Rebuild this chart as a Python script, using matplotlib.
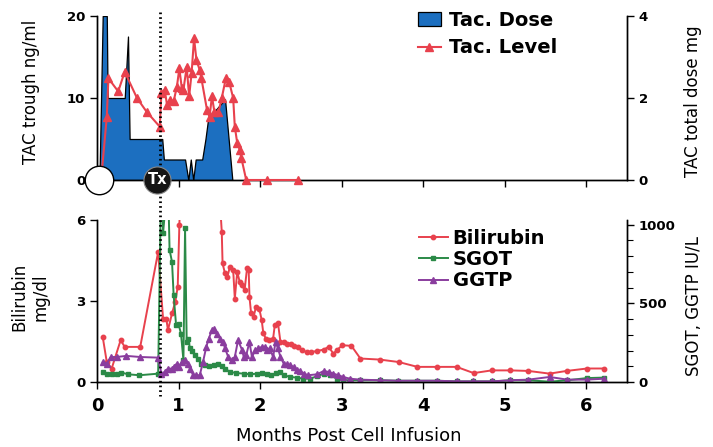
import matplotlib
matplotlib.use('Agg')
import matplotlib.pyplot as plt
import matplotlib.transforms as mtransforms
from matplotlib.lines import Line2D
from matplotlib.patches import Patch
from matplotlib.ticker import MultipleLocator

# ---- data ----
# tacrolimus dose (mg, right axis of top panel)
dose_month = [0.03, 0.07, 0.12, 0.13, 0.34, 0.38, 0.40, 0.80, 0.82, 1.08, 1.12,
              1.15, 1.18, 1.21, 1.29, 1.33, 1.36, 1.42, 1.53, 1.57, 1.66]
dose_mg = [0, 4, 4, 2, 2, 3.5, 1.0, 1.0, 0.5, 0.5, 0, 0.5, 0, 0.5, 0.5, 1.0,
           1.45, 1.63, 1.88, 1.97, 0]

# tacrolimus trough level (ng/ml)
level_month = [0.05, 0.12, 0.14, 0.26, 0.34, 0.49, 0.61, 0.77, 0.79, 0.83, 0.86,
               0.90, 0.94, 0.98, 1.01, 1.04, 1.06, 1.10, 1.13, 1.16, 1.19, 1.22,
               1.26, 1.28, 1.35, 1.38, 1.41, 1.44, 1.49, 1.53, 1.58, 1.62, 1.67,
               1.69, 1.72, 1.75, 1.77, 1.83, 2.08, 2.47]
level_ngml = [0, 7.7, 12.4, 10.8, 13.2, 10.0, 8.3, 6.5, 10.6, 11.0, 9.1,
              9.8, 9.6, 11.4, 13.6, 11.2, 11.0, 13.8, 10.2, 13.0, 17.3, 14.6,
              13.4, 12.4, 8.5, 7.7, 10.2, 8.3, 8.3, 10.0, 12.4, 12.0, 10.0,
              6.5, 4.5, 3.7, 2.7, 0, 0, 0]

# bilirubin (mg/dl)
bili_month = [0.07, 0.12, 0.18, 0.29, 0.34, 0.53, 0.75, 0.81, 0.85, 0.87, 0.92,
              0.96, 0.99, 1.01, 1.06, 1.45, 1.53, 1.54, 1.57, 1.60, 1.63, 1.67,
              1.69, 1.72, 1.75, 1.78, 1.81, 1.84, 1.86, 1.87, 1.89, 1.92, 1.95,
              1.99, 2.02, 2.04, 2.07, 2.11, 2.16, 2.18, 2.22, 2.25, 2.29, 2.33,
              2.38, 2.42, 2.46, 2.51, 2.57, 2.63, 2.70, 2.78, 2.84, 2.90, 2.94,
              3.01, 3.12, 3.23, 3.47, 3.70, 3.93, 4.17, 4.41, 4.62, 4.84, 5.07,
              5.29, 5.55, 5.76, 6.01, 6.22]
bili_mgdl = [1.67, 0.74, 0.5, 1.55, 1.3, 1.3, 4.82, 2.35, 2.35, 1.92, 2.54,
             2.97, 3.53, 5.8, 11.0, 9.5, 5.57, 4.39, 4.02, 3.9, 4.27, 4.15,
             3.09, 4.08, 3.71, 3.59, 3.4, 4.21, 4.15, 3.15, 2.54, 2.41, 2.78,
             2.72, 2.29, 1.8, 1.61, 1.55, 1.61, 2.1, 2.17, 1.48, 1.48, 1.42,
             1.42, 1.32, 1.28, 1.18, 1.11, 1.11, 1.15, 1.2, 1.3, 1.05, 1.18,
             1.36, 1.34, 0.87, 0.83, 0.74, 0.56, 0.56, 0.56, 0.33, 0.43, 0.43,
             0.41, 0.31, 0.41, 0.5, 0.5]

# SGOT (IU/L)
sgot_month = [0.07, 0.12, 0.18, 0.24, 0.30, 0.38, 0.52, 0.75, 0.79, 0.81, 0.87,
              0.89, 0.92, 0.94, 0.97, 1.00, 1.03, 1.06, 1.08, 1.10, 1.12, 1.14,
              1.17, 1.20, 1.24, 1.28, 1.33, 1.37, 1.43, 1.49, 1.53, 1.57, 1.63,
              1.71, 1.80, 1.88, 1.96, 2.02, 2.08, 2.14, 2.20, 2.25, 2.29, 2.37,
              2.45, 2.53, 2.61, 2.70, 2.78, 2.86, 2.94, 3.02, 3.10, 3.23, 3.47,
              3.69, 3.93, 4.17, 4.42, 4.61, 4.85, 5.07, 5.29, 5.55, 5.77, 6.01,
              6.22]
sgot_iu = [64, 53, 49, 49, 60, 49, 43, 53, 1400, 945, 1300,
           839, 764, 552, 361, 367, 308, 138, 977, 255, 276, 213,
           200, 170, 149, 117, 106, 100, 110, 117, 100, 85, 64,
           57, 53, 49, 53, 57, 49, 43, 57, 64, 43, 32,
           28, 21, 21, 36, 53, 43, 21, 11, 11, 11, 11,
           8, 8, 8, 4, 4, 4, 11, 11, 2, 11, 25,
           28]

# GGTP (IU/L)
ggtp_month = [0.07, 0.12, 0.17, 0.24, 0.36, 0.53, 0.75, 0.79, 0.83, 0.87, 0.92,
              0.94, 0.98, 1.00, 1.04, 1.08, 1.11, 1.14, 1.18, 1.22, 1.26, 1.30,
              1.34, 1.37, 1.41, 1.44, 1.47, 1.51, 1.55, 1.57, 1.61, 1.65, 1.69,
              1.73, 1.78, 1.80, 1.83, 1.87, 1.90, 1.94, 1.98, 2.02, 2.06, 2.09,
              2.12, 2.16, 2.19, 2.22, 2.25, 2.29, 2.33, 2.37, 2.41, 2.45, 2.49,
              2.54, 2.59, 2.70, 2.78, 2.84, 2.90, 2.96, 3.02, 3.10, 3.23, 3.47,
              3.69, 3.93, 4.17, 4.42, 4.61, 4.85, 5.07, 5.29, 5.55, 5.77, 6.01,
              6.22]
ggtp_iu = [127, 117, 159, 159, 166, 159, 155, 53, 64, 85, 85,
           96, 117, 96, 127, 138, 117, 85, 43, 43, 43, 127,
           223, 276, 329, 340, 308, 276, 255, 213, 159, 138, 159,
           266, 202, 159, 170, 255, 159, 202, 213, 223, 223, 202,
           213, 159, 255, 213, 159, 117, 113, 106, 96, 79, 70,
           53, 43, 49, 70, 64, 53, 43, 32, 21, 15, 11,
           8, 8, 8, 4, 4, 4, 11, 15, 32, 15, 15,
           21]

infusion_month = 0.03
tx_month = 0.77
tx_badge_month = 0.74

# ---- styling ----
blue = '#1c6fc0'
red = '#e8414d'
green = '#2b8a47'
purple = '#8a3d9e'

W, H = 713, 447
fig = plt.figure(figsize=(W / 100, H / 100), dpi=100)


def box(left, top, right, bottom):
    return [left / W, 1 - bottom / H, (right - left) / W, (bottom - top) / H]


def fx(px):
    return px / W


def fy(py):
    return 1 - py / H


ax_top = fig.add_axes(box(97, 16, 627, 180))
ax_dose = ax_top.twinx()
ax_bot = fig.add_axes(box(97, 220, 627, 382))
ax_iu = ax_bot.twinx()

ax_bot.set_zorder(0)
ax_iu.set_zorder(1)
ax_dose.set_zorder(2)
ax_top.set_zorder(3)
for a in (ax_top, ax_dose, ax_bot, ax_iu):
    a.patch.set_visible(False)
    a.spines['top'].set_visible(False)
    a.set_xlim(0, 6.5)
    a.set_xticks(range(7))

# top panel
ax_dose.fill_between(dose_month, dose_mg, 0, facecolor=blue, edgecolor='black',
                     linewidth=0.9)
ax_dose.set_ylim(0, 4)
ax_dose.set_yticks([0, 2, 4])

ax_top.plot(level_month, level_ngml, color=red, lw=1.5, marker='^', ms=6,
            mfc=red, mec=red, clip_on=False, zorder=4)
ax_top.set_ylim(0, 20)
ax_top.set_yticks([0, 10, 20])
ax_top.set_xticklabels([])

ax_top.scatter([infusion_month], [0], s=420, facecolor='white', edgecolor='black',
               linewidth=1.0, clip_on=False, zorder=10)
ax_top.scatter([tx_badge_month], [0], s=380, facecolor='#151515', edgecolor='#888888',
               linewidth=0.8, clip_on=False, zorder=10)
ax_top.text(tx_badge_month, 0, 'Tx', color='white', fontsize=10.5, fontweight='bold',
            ha='center', va='center', zorder=11, clip_on=False)

# dotted marker line across both panels
trans = mtransforms.blended_transform_factory(ax_top.transData, fig.transFigure)
vline = Line2D([tx_month, tx_month], [fy(12), fy(396)], transform=trans,
               color='black', lw=2.0, linestyle=(0, (0.6, 1.1)), zorder=6)
vline.set_clip_on(False)
ax_top.add_artist(vline)

# bottom panel
ax_bot.plot(bili_month, bili_mgdl, color=red, lw=1.4, marker='o', ms=3.2,
            mfc=red, mec=red)
ax_bot.set_ylim(0, 6)
ax_bot.set_yticks([0, 3, 6])

ax_iu.plot(sgot_month, sgot_iu, color=green, lw=1.4, marker='s', ms=3.2,
           mfc=green, mec=green)
ax_iu.plot(ggtp_month, ggtp_iu, color=purple, lw=1.4, marker='^', ms=3.8,
           mfc=purple, mec=purple)
ax_iu.set_ylim(0, 1030)
ax_iu.set_yticks([0, 500, 1000])
ax_iu.yaxis.set_minor_locator(MultipleLocator(100))

for a in (ax_top, ax_dose, ax_bot, ax_iu):
    a.tick_params(axis='both', which='major', direction='out', length=5, width=1,
                  labelsize=9.5)
    a.tick_params(axis='y', which='minor', direction='out', length=4, width=0.8)
    for lab in a.get_yticklabels():
        lab.set_fontweight('bold')
    for s in a.spines.values():
        s.set_linewidth(1.0)

ax_bot.tick_params(axis='x', labelsize=13, pad=6)
for lab in ax_bot.get_xticklabels():
    lab.set_fontweight('bold')

# axis labels
fig.text(fx(31), fy(92), 'TAC trough ng/ml', rotation=90, ha='center', va='center',
         fontsize=12)
fig.text(fx(30), fy(297), 'Bilirubin\nmg/dl', rotation=90, ha='center', va='center',
         fontsize=12, linespacing=1.2)
fig.text(fx(693), fy(101), 'TAC total dose mg', rotation=90, ha='center', va='center',
         fontsize=12)
fig.text(fx(694), fy(306), 'SGOT, GGTP IU/L', rotation=90, ha='center', va='center',
         fontsize=12)
fig.text(fx(349), fy(436), 'Months Post Cell Infusion', ha='center', va='center',
         fontsize=13)

# legends
top_handles = [Patch(facecolor=blue, edgecolor='black', linewidth=0.9),
               Line2D([], [], color=red, lw=1.5, marker='^', ms=6)]
leg1 = ax_top.legend(top_handles, ['Tac. Dose', 'Tac. Level'], loc='upper left',
                     bbox_to_anchor=(fx(408), fy(1)), bbox_transform=fig.transFigure,
                     frameon=False, borderpad=0, handlelength=1.2, handleheight=0.7,
                     handletextpad=0.4, labelspacing=0.45,
                     prop={'size': 14, 'weight': 'bold'})

bot_handles = [Line2D([], [], color=red, lw=1.4, marker='o', ms=3.2),
               Line2D([], [], color=green, lw=1.4, marker='s', ms=3.2),
               Line2D([], [], color=purple, lw=1.4, marker='^', ms=3.8)]
leg2 = ax_iu.legend(bot_handles, ['Bilirubin', 'SGOT', 'GGTP'], loc='upper left',
                    bbox_to_anchor=(fx(409), fy(219)), bbox_transform=fig.transFigure,
                    frameon=False, borderpad=0, handlelength=1.5, handletextpad=0.25,
                    labelspacing=0.12, prop={'size': 14, 'weight': 'bold'})

fig.savefig('out.png', dpi=100)
